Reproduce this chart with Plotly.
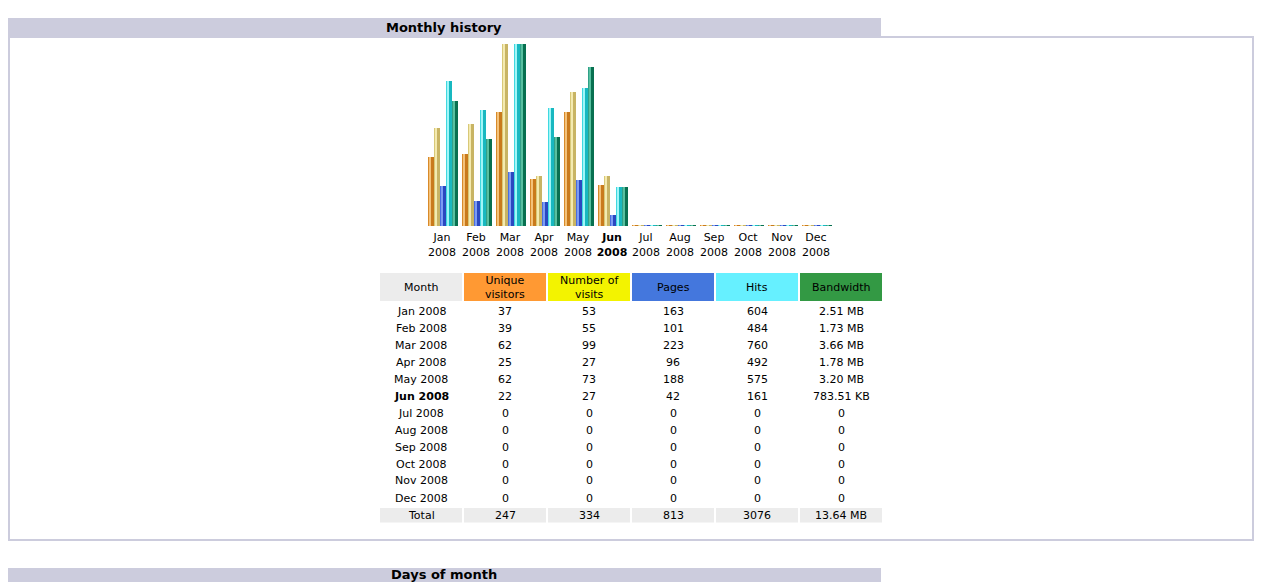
import plotly.graph_objects as go

# Monthly history data (AWStats style)
months = ["Jan", "Feb", "Mar", "Apr", "May", "Jun", "Jul", "Aug", "Sep", "Oct", "Nov", "Dec"]
year = "2008"
current = "Jun"
unique_visitors = [37, 39, 62, 25, 62, 22, 0, 0, 0, 0, 0, 0]
visits = [53, 55, 99, 27, 73, 27, 0, 0, 0, 0, 0, 0]
pages = [163, 101, 223, 96, 188, 42, 0, 0, 0, 0, 0, 0]
hits = [604, 484, 760, 492, 575, 161, 0, 0, 0, 0, 0, 0]
bandwidth_mb = [2.51, 1.73, 3.66, 1.78, 3.20, 0.765, 0, 0, 0, 0, 0, 0]
bandwidth_txt = ["2.51 MB", "1.73 MB", "3.66 MB", "1.78 MB", "3.20 MB", "783.51 KB",
                 "0", "0", "0", "0", "0", "0"]
totals = ["247", "334", "813", "3076", "13.64 MB"]
headers = ["Month", "Unique<br>visitors", "Number of<br>visits", "Pages", "Hits", "Bandwidth"]
header_colors = ["#ececec", "#ff9933", "#f3f300", "#4477dd", "#66f0ff", "#339944"]

W, H = 1263, 582
FONT = "DejaVu Sans"


def px(x):
    return x / W


def py(y):
    return 1 - y / H


# bar strips: (width px, colour) from left to right, for a 3d look
strips = {
    "u": [(1, "#d88a2a"), (2, "#f4c27a"), (3, "#c97a1c")],
    "v": [(1, "#d8c878"), (2, "#f4eab0"), (3, "#c8b464")],
    "p": [(1, "#4a6ee0"), (2, "#7c9cf4"), (3, "#2a48c0")],
    "h": [(1, "#40d8e0"), (2, "#a0f6f8"), (3, "#18b8c0")],
    "k": [(1, "#30a088"), (2, "#58c0a0"), (3, "#087050")],
}
series = [("u", unique_visitors, "y"), ("v", visits, "y"),
          ("p", pages, "y2"), ("h", hits, "y2"), ("k", bandwidth_mb, "y3")]

pitch = 34.0  # px per month
chart_h = 181.0
xs = list(range(len(months)))

fig = go.Figure()
for k, (key, vals, ax) in enumerate(series):
    left = -14 + 6 * k
    top = {"y": max(visits), "y2": max(hits), "y3": max(bandwidth_mb)}[ax]
    base = -top / chart_h  # 1px stub so empty months still show
    for w, col in strips[key]:
        fig.add_trace(go.Bar(
            x=xs, y=[v - base for v in vals], base=base, yaxis=ax,
            width=w / pitch, offset=left / pitch, marker_color=col,
            marker_line_width=0, hoverinfo="skip", showlegend=False))
        left += w

ticktext = []
for m in months:
    t = f"{m}<br>{year}"
    ticktext.append(f"<b>{t}</b>" if m == current else t)


def yax(top, **kw):
    return dict(range=[-top / chart_h, top], domain=[py(226), py(44)],
                visible=False, fixedrange=True, **kw)


shapes = [
    dict(type="rect", xref="paper", yref="paper", x0=px(8), x1=px(881), y0=py(36), y1=py(18),
         fillcolor="#ccccdd", line_width=0, layer="below"),
    dict(type="rect", xref="paper", yref="paper", x0=px(9), x1=px(1253), y0=py(540), y1=py(37),
         fillcolor="rgba(0,0,0,0)", line=dict(color="#ccccdd", width=2)),
    dict(type="rect", xref="paper", yref="paper", x0=px(8), x1=px(881), y0=py(590), y1=py(568),
         fillcolor="#ccccdd", line_width=0, layer="below"),
]
titles = [("Monthly history", 27), ("Days of month", 574)]
annotations = [dict(text=f"<b>{t}</b>", x=px(444), y=py(y), font=dict(size=13))
               for t, y in titles]

# table drawn with shapes + text
col_x0 = [380 + 84 * i for i in range(6)]
col_w = 82
row_h = 17
head_top, head_bot = 273, 301
first_row = 311

month_col = [f"{m} {year}" for m in months]
cols = [month_col + ["Total"],
        [str(v) for v in unique_visitors] + [totals[0]],
        [str(v) for v in visits] + [totals[1]],
        [str(v) for v in pages] + [totals[2]],
        [str(v) for v in hits] + [totals[3]],
        bandwidth_txt + [totals[4]]]

total_y = first_row + row_h * len(months) + 0.5
for i, x0 in enumerate(col_x0):
    shapes.append(dict(type="rect", xref="paper", yref="paper", x0=px(x0), x1=px(x0 + col_w),
                       y0=py(head_bot), y1=py(head_top), fillcolor=header_colors[i],
                       line_width=0, layer="below"))
    shapes.append(dict(type="rect", xref="paper", yref="paper", x0=px(x0), x1=px(x0 + col_w),
                       y0=py(total_y + 7), y1=py(total_y - 7.5), fillcolor="#ececec",
                       line_width=0, layer="below"))
    annotations.append(dict(text=headers[i], x=px(x0 + col_w / 2),
                            y=py((head_top + head_bot) / 2), font=dict(size=11)))
    for r, val in enumerate(cols[i]):
        bold = r < len(months) and months[r] == current and i == 0
        annotations.append(dict(text=f"<b>{val}</b>" if bold else val, font=dict(size=11),
                                x=px(x0 + col_w / 2), y=py(first_row + row_h * r)))

for a in annotations:
    a.update(xref="paper", yref="paper", showarrow=False, xanchor="center", yanchor="middle")
    a["font"].update(family=FONT, color="#000000")

fig.update_layout(
    width=W, height=H, margin=dict(l=0, r=0, t=0, b=0),
    paper_bgcolor="#ffffff", plot_bgcolor="rgba(0,0,0,0)",
    barmode="overlay", bargap=0,
    xaxis=dict(domain=[px(425), px(833)], range=[-0.5, 11.5], tickmode="array",
               tickvals=xs, ticktext=ticktext, ticks="outside", ticklen=1,
               tickcolor="rgba(0,0,0,0)", showgrid=False, zeroline=False,
               showline=False, fixedrange=True,
               tickfont=dict(family=FONT, size=11, color="#000000")),
    yaxis=yax(max(visits)),
    yaxis2=yax(max(hits), overlaying="y"),
    yaxis3=yax(max(bandwidth_mb), overlaying="y"),
    shapes=shapes, annotations=annotations, showlegend=False,
)

fig.write_html("out.html", config={"displayModeBar": False},
               post_script="document.body.style.margin='0';")
